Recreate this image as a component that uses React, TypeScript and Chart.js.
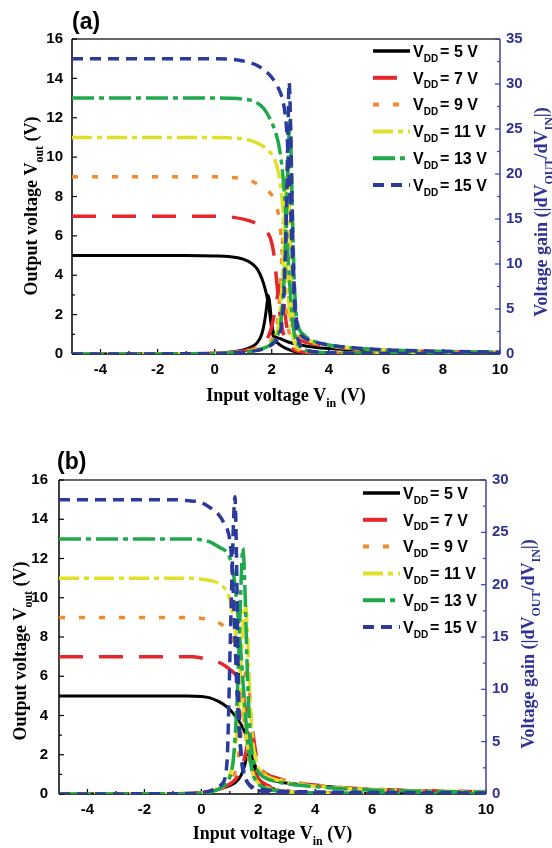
import React, { useEffect, useRef } from 'react';
import { Chart, registerables } from 'chart.js';

Chart.register(...registerables);

type Pt = [number, number];

// ---------- axis ticks ----------
const xTickValues = [-4, -2, 0, 2, 4, 6, 8, 10];
const xMinorValues = [-3, -1, 1, 3, 5, 7, 9];
const voutTickValues = [0, 2, 4, 6, 8, 10, 12, 14, 16];
const voutMinorValues = [1, 3, 5, 7, 9, 11, 13, 15];
const gainTicksA = [0, 5, 10, 15, 20, 25, 30, 35];
const gainMinorA = [2.5, 7.5, 12.5, 17.5, 22.5, 27.5, 32.5];
const gainTicksB = [0, 5, 10, 15, 20, 25, 30];
const gainMinorB = [2.5, 7.5, 12.5, 17.5, 22.5, 27.5];

// ---------- series ----------
const vddValues = ['5', '7', '9', '11', '13', '15'];

// Panel (a) : transfer curves (V_in, V_out)
const vtcA5: Pt[] = [[-5, 5], [-1, 5], [0, 4.98], [0.5, 4.95], [1, 4.82], [1.3, 4.6], [1.5, 4.3], [1.65, 3.85], [1.77, 3.3], [1.85, 2.8], [1.92, 2.2], [1.97, 1.6], [2.02, 1.1], [2.1, 0.75], [2.3, 0.45], [2.6, 0.22], [3, 0.07], [4, 0.03], [10, 0.01]];
const vtcA7: Pt[] = [[-5, 7], [0, 7], [0.5, 6.97], [1, 6.85], [1.35, 6.7], [1.6, 6.5], [1.8, 6.25], [1.95, 5.9], [2.05, 5.3], [2.12, 4.5], [2.18, 3.6], [2.24, 2.7], [2.3, 1.9], [2.38, 1.2], [2.48, 0.7], [2.6, 0.4], [2.8, 0.2], [3.2, 0.08], [4, 0.03], [10, 0.01]];
const vtcA9: Pt[] = [[-5, 9], [0, 9], [0.5, 8.98], [1, 8.9], [1.3, 8.78], [1.6, 8.55], [1.9, 8.25], [2.1, 7.8], [2.22, 7.2], [2.3, 6.4], [2.36, 5.3], [2.42, 4.1], [2.48, 2.9], [2.54, 1.9], [2.61, 1.1], [2.7, 0.6], [2.83, 0.3], [3.1, 0.12], [4, 0.04], [10, 0.01]];
const vtcA11: Pt[] = [[-5, 11], [0, 11], [0.5, 10.98], [1, 10.92], [1.4, 10.78], [1.7, 10.55], [1.9, 10.3], [2.1, 9.9], [2.22, 9.3], [2.32, 8.4], [2.4, 7.2], [2.46, 5.8], [2.52, 4.3], [2.58, 3.0], [2.64, 1.9], [2.71, 1.1], [2.8, 0.55], [2.95, 0.28], [3.3, 0.12], [4, 0.05], [10, 0.01]];
const vtcA13: Pt[] = [[-5, 13], [0, 13], [0.5, 12.99], [1, 12.95], [1.4, 12.82], [1.7, 12.5], [1.9, 12.05], [2.1, 11.4], [2.25, 10.6], [2.36, 9.5], [2.44, 8.2], [2.51, 6.6], [2.57, 5.0], [2.63, 3.6], [2.69, 2.3], [2.76, 1.3], [2.85, 0.7], [2.97, 0.4], [3.3, 0.15], [4, 0.06], [10, 0.01]];
const vtcA15: Pt[] = [[-5, 15], [0, 15], [0.5, 14.98], [1, 14.88], [1.5, 14.65], [1.8, 14.35], [2.0, 14.05], [2.2, 13.6], [2.4, 12.8], [2.5, 11.8], [2.57, 10.3], [2.63, 8.5], [2.68, 6.6], [2.73, 4.7], [2.78, 3.0], [2.84, 1.7], [2.9, 0.9], [3.0, 0.45], [3.2, 0.2], [3.6, 0.1], [4, 0.06], [10, 0.01]];

// Panel (a) : voltage gain (V_in, |dVout/dVin|)
const gainA5: Pt[] = [[-5, 0], [-1, 0.02], [0, 0.08], [0.5, 0.2], [1, 0.45], [1.3, 0.8], [1.5, 1.3], [1.65, 2.2], [1.75, 3.6], [1.82, 5.2], [1.88, 6.5], [1.93, 5.6], [1.98, 4.0], [2.04, 2.6], [2.12, 2.0], [2.3, 1.7], [2.6, 1.3], [3, 1.0], [3.5, 0.75], [4, 0.6], [5, 0.42], [6, 0.32], [7, 0.26], [8, 0.2], [10, 0.15]];
const gainA7: Pt[] = [[-5, 0], [-1, 0.02], [0, 0.07], [0.5, 0.15], [1, 0.35], [1.5, 0.8], [1.8, 1.5], [1.95, 2.5], [2.05, 3.8], [2.15, 5.5], [2.25, 7.2], [2.32, 8.0], [2.38, 7.0], [2.45, 5.0], [2.52, 3.2], [2.6, 2.3], [2.8, 1.8], [3.2, 1.3], [4, 0.85], [5, 0.55], [6, 0.4], [8, 0.25], [10, 0.18]];
const gainA9: Pt[] = [[-5, 0], [-1, 0.02], [0, 0.06], [0.5, 0.15], [1, 0.3], [1.5, 0.6], [1.9, 1.2], [2.1, 2.2], [2.2, 3.5], [2.28, 6.5], [2.35, 10.5], [2.41, 14.5], [2.45, 16], [2.5, 14], [2.55, 10], [2.61, 6], [2.68, 3.5], [2.76, 2.4], [3, 1.8], [3.5, 1.2], [4, 0.9], [5, 0.55], [6, 0.4], [8, 0.25], [10, 0.18]];
const gainA11: Pt[] = [[-5, 0], [-1, 0.02], [0, 0.05], [0.5, 0.12], [1, 0.25], [1.5, 0.5], [1.9, 1.0], [2.1, 1.8], [2.25, 3.5], [2.35, 7], [2.43, 12.5], [2.49, 18], [2.54, 21.5], [2.59, 19], [2.64, 13], [2.69, 8], [2.75, 4.5], [2.83, 3.0], [3, 2.1], [3.5, 1.3], [4, 0.95], [5, 0.6], [6, 0.42], [8, 0.27], [10, 0.2]];
const gainA13: Pt[] = [[-5, 0], [-1, 0.02], [0, 0.05], [0.5, 0.1], [1, 0.22], [1.5, 0.45], [1.9, 0.9], [2.1, 1.6], [2.3, 3.2], [2.4, 6.5], [2.48, 12], [2.55, 19], [2.6, 24], [2.64, 26], [2.68, 22], [2.73, 15], [2.78, 9], [2.84, 5], [2.92, 3.2], [3.1, 2.2], [3.5, 1.4], [4, 1.0], [5, 0.62], [6, 0.45], [8, 0.28], [10, 0.2]];
const gainA15: Pt[] = [[-5, 0], [-1, 0.02], [0, 0.05], [0.5, 0.1], [1, 0.2], [1.5, 0.4], [1.9, 0.8], [2.15, 1.5], [2.3, 2.5], [2.4, 5], [2.47, 10], [2.53, 18], [2.57, 25], [2.61, 30.2], [2.65, 27], [2.7, 19], [2.75, 11], [2.81, 6], [2.88, 3.4], [2.97, 2.4], [3.2, 1.7], [3.7, 1.2], [4, 1.0], [5, 0.65], [6, 0.45], [8, 0.3], [10, 0.2]];

// Panel (b) : transfer curves
const vtcB5: Pt[] = [[-5, 5], [-0.5, 5], [0, 4.97], [0.3, 4.9], [0.6, 4.72], [0.8, 4.55], [1.0, 4.3], [1.15, 4.05], [1.3, 3.77], [1.45, 3.4], [1.6, 2.9], [1.7, 2.4], [1.78, 1.9], [1.86, 1.4], [1.94, 0.97], [2.05, 0.7], [2.2, 0.5], [2.5, 0.28], [3, 0.12], [4, 0.04], [10, 0.01]];
const vtcB7: Pt[] = [[-5, 7], [-0.3, 7], [0, 6.93], [0.4, 6.8], [0.7, 6.65], [1.0, 6.35], [1.25, 6.0], [1.4, 5.5], [1.5, 4.8], [1.58, 3.9], [1.65, 3.0], [1.72, 2.2], [1.8, 1.5], [1.9, 1.0], [2.05, 0.7], [2.3, 0.45], [2.7, 0.25], [3.2, 0.12], [4, 0.05], [10, 0.01]];
const vtcB9: Pt[] = [[-5, 9], [-0.3, 9], [0, 8.95], [0.4, 8.85], [0.7, 8.65], [0.95, 8.3], [1.1, 7.8], [1.22, 7.0], [1.32, 6.0], [1.41, 4.9], [1.5, 3.8], [1.58, 2.8], [1.66, 1.9], [1.75, 1.25], [1.87, 0.8], [2.05, 0.5], [2.4, 0.28], [3, 0.12], [4, 0.05], [10, 0.01]];
const vtcB11: Pt[] = [[-5, 11], [-0.3, 11], [0, 10.95], [0.4, 10.85], [0.7, 10.65], [0.9, 10.3], [1.02, 9.8], [1.12, 9.0], [1.22, 8.0], [1.3, 7.0], [1.38, 5.9], [1.46, 4.7], [1.54, 3.5], [1.62, 2.5], [1.7, 1.7], [1.8, 1.1], [1.95, 0.65], [2.2, 0.38], [2.6, 0.2], [3.2, 0.1], [4, 0.05], [10, 0.01]];
const vtcB13: Pt[] = [[-5, 13], [-0.5, 13], [0, 12.95], [0.3, 12.85], [0.6, 12.6], [0.9, 12.3], [1.05, 11.8], [1.15, 11.0], [1.23, 10.0], [1.3, 8.9], [1.37, 7.6], [1.44, 6.2], [1.51, 4.8], [1.58, 3.5], [1.65, 2.4], [1.73, 1.6], [1.82, 1.0], [1.95, 0.6], [2.2, 0.32], [2.7, 0.15], [4, 0.05], [10, 0.01]];
const vtcB15: Pt[] = [[-5, 15], [-1, 15], [-0.5, 14.95], [0, 14.85], [0.3, 14.6], [0.6, 14.25], [0.8, 13.8], [0.95, 13.3], [1.03, 12.6], [1.08, 11.6], [1.12, 10.3], [1.16, 8.8], [1.2, 7.2], [1.24, 5.6], [1.29, 4.1], [1.35, 2.8], [1.42, 1.8], [1.5, 1.1], [1.6, 0.65], [1.75, 0.35], [2.0, 0.18], [2.5, 0.09], [4, 0.04], [10, 0.01]];

// Panel (b) : voltage gain
const gainB5: Pt[] = [[-5, 0], [-1, 0.02], [0, 0.1], [0.5, 0.35], [0.9, 0.7], [1.2, 1.1], [1.4, 1.8], [1.52, 2.7], [1.62, 4.0], [1.7, 5.2], [1.76, 4.6], [1.84, 3.2], [1.95, 2.3], [2.1, 1.8], [2.4, 1.4], [3, 1.05], [3.5, 0.9], [4.5, 0.7], [5.5, 0.5], [7, 0.35], [8.5, 0.25], [10, 0.2]];
const gainB7: Pt[] = [[-5, 0], [-1, 0.03], [0, 0.12], [0.5, 0.4], [0.9, 0.8], [1.2, 1.4], [1.4, 2.4], [1.55, 3.8], [1.65, 5.2], [1.73, 6.4], [1.8, 6.0], [1.87, 4.7], [1.95, 3.4], [2.05, 2.6], [2.3, 1.9], [2.7, 1.5], [3.2, 1.15], [4, 0.85], [5, 0.6], [6, 0.45], [8, 0.3], [10, 0.22]];
const gainB9: Pt[] = [[-5, 0], [-1, 0.03], [0, 0.12], [0.5, 0.4], [0.9, 0.9], [1.15, 1.8], [1.3, 3.5], [1.4, 6], [1.48, 9], [1.55, 11.5], [1.6, 12.3], [1.66, 11], [1.72, 8.5], [1.8, 5.5], [1.9, 3.6], [2.0, 2.7], [2.3, 1.9], [2.7, 1.5], [3.2, 1.15], [4, 0.85], [5, 0.6], [6, 0.45], [8, 0.3], [10, 0.22]];
const gainB11: Pt[] = [[-5, 0], [-1, 0.03], [0, 0.12], [0.5, 0.4], [0.8, 0.9], [1.0, 1.8], [1.15, 3.5], [1.28, 7], [1.38, 11.5], [1.45, 15.5], [1.5, 17.5], [1.55, 18.2], [1.6, 16.5], [1.66, 12.5], [1.72, 8.5], [1.8, 5.2], [1.9, 3.4], [2.0, 2.5], [2.3, 1.7], [2.7, 1.3], [3.2, 1.0], [4, 0.75], [5, 0.55], [6, 0.42], [8, 0.28], [10, 0.2]];
const gainB13: Pt[] = [[-5, 0], [-1, 0.03], [0, 0.1], [0.5, 0.35], [0.8, 0.8], [1.0, 1.6], [1.12, 3.2], [1.22, 7], [1.3, 12], [1.37, 18], [1.42, 22], [1.46, 23.5], [1.5, 22], [1.55, 18], [1.6, 13], [1.66, 8.5], [1.73, 5.2], [1.82, 3.3], [1.95, 2.3], [2.2, 1.6], [2.6, 1.2], [3.2, 0.9], [4, 0.7], [5, 0.5], [6, 0.38], [8, 0.25], [10, 0.18]];
const gainB15: Pt[] = [[-5, 0], [-1, 0.03], [0, 0.12], [0.4, 0.4], [0.7, 0.9], [0.85, 1.8], [0.92, 4], [0.97, 9], [1.02, 15], [1.08, 21], [1.13, 26], [1.18, 28.4], [1.22, 25], [1.26, 18], [1.3, 11], [1.35, 6], [1.42, 3], [1.5, 1.8], [1.65, 1.0], [1.85, 0.6], [2.2, 0.4], [3, 0.25], [4, 0.2], [6, 0.15], [8, 0.12], [10, 0.1]];

// ---------- styles ----------
const seriesColors = ['#000000', '#e5262b', '#f08a2a', '#e0e028', '#1fa84c', '#2b3b9c'];
const seriesDashes: number[][] = [[], [24, 16], [6, 14], [20, 5, 5, 5], [22, 5, 5, 5], [11, 7]];
const gainBlue = '#2f3194';
const axisBlue = '#4040a0';
const W = 552;
const H = 424;

type PanelCfg = {
  label: string;
  area: { left: number; right: number; top: number; bottom: number };
  gainMax: number;
  gainTicks: number[];
  gainMinor: number[];
  leftPad: number;
  labelPos: [number, number];
  legendX: number;
  legendTextX: number;
  legendY0: number;
  legendDy: number;
  leftTitle: [number, number];
  rightTitle: [number, number];
  xTitleY: number;
  vtc: Pt[][];
  gain: Pt[][];
};

const panelA: PanelCfg = {
  label: '(a)',
  area: { left: 72, right: 500, top: 39, bottom: 354 },
  gainMax: 35,
  gainTicks: gainTicksA,
  gainMinor: gainMinorA,
  leftPad: 9,
  labelPos: [72, 23],
  legendX: 373,
  legendTextX: 413,
  legendY0: 51,
  legendDy: 26.8,
  leftTitle: [31, 206],
  rightTitle: [541, 212],
  xTitleY: 395,
  vtc: [vtcA5, vtcA7, vtcA9, vtcA11, vtcA13, vtcA15],
  gain: [gainA5, gainA7, gainA9, gainA11, gainA13, gainA15],
};

const panelB: PanelCfg = {
  label: '(b)',
  area: { left: 59, right: 486, top: 56, bottom: 370 },
  gainMax: 30,
  gainTicks: gainTicksB,
  gainMinor: gainMinorB,
  leftPad: 11,
  labelPos: [57, 39],
  legendX: 363,
  legendTextX: 403,
  legendY0: 69,
  legendDy: 26.8,
  leftTitle: [20, 227],
  rightTitle: [528, 220],
  xTitleY: 409,
  vtc: [vtcB5, vtcB7, vtcB9, vtcB11, vtcB13, vtcB15],
  gain: [gainB5, gainB7, gainB9, gainB11, gainB13, gainB15],
};

const serif = '"Liberation Serif", "Times New Roman", serif';
const sans = '"Liberation Sans", Arial, sans-serif';

type Part = [string, boolean];

function measureParts(ctx: CanvasRenderingContext2D, parts: Part[], main: string, sub: string) {
  return parts.map(([t, s]) => {
    ctx.font = s ? sub : main;
    return ctx.measureText(t).width;
  });
}

function drawParts(
  ctx: CanvasRenderingContext2D,
  parts: Part[],
  x: number,
  y: number,
  rot: number,
  centered: boolean,
  mainSize: number,
  subSize: number,
  family: string,
  color: string,
  subGap = 0,
) {
  const main = `bold ${mainSize}px ${family}`;
  const sub = `bold ${subSize}px ${family}`;
  ctx.save();
  ctx.translate(x, y);
  ctx.rotate(rot);
  ctx.fillStyle = color;
  ctx.textAlign = 'left';
  ctx.textBaseline = 'alphabetic';
  const widths = measureParts(ctx, parts, main, sub);
  const total = widths.reduce((a, b) => a + b, 0) + subGap;
  let cx = centered ? -total / 2 : 0;
  const base = mainSize * 0.36;
  parts.forEach(([t, s], i) => {
    ctx.font = s ? sub : main;
    ctx.fillText(t, cx, s ? base + mainSize * 0.3 : base);
    cx += widths[i] + (s ? subGap : 0);
  });
  ctx.restore();
}

function makeDecor(cfg: PanelCfg) {
  return {
    id: 'decor',
    beforeDatasetsDraw(chart: any) {
      const ctx: CanvasRenderingContext2D = chart.ctx;
      const { left, right, top, bottom } = chart.chartArea;
      const xs = chart.scales.x;
      const ys = chart.scales.y;
      const y1 = chart.scales.y1;
      ctx.save();
      ctx.lineWidth = 1.5;
      const seg = (a: number, b: number, c: number, d: number) => {
        ctx.beginPath();
        ctx.moveTo(a, b);
        ctx.lineTo(c, d);
        ctx.stroke();
      };
      ctx.strokeStyle = '#333333';
      seg(left, top, right, top);
      ctx.strokeStyle = '#000000';
      seg(left, top, left, bottom);
      seg(left, bottom, right, bottom);
      ctx.lineWidth = 1.2;
      xTickValues.forEach((v) => { const p = xs.getPixelForValue(v); seg(p, bottom, p, bottom - 5); });
      xMinorValues.forEach((v) => { const p = xs.getPixelForValue(v); seg(p, bottom, p, bottom - 3); });
      voutTickValues.forEach((v) => { const p = ys.getPixelForValue(v); seg(left, p, left + 5, p); });
      voutMinorValues.forEach((v) => { const p = ys.getPixelForValue(v); seg(left, p, left + 3, p); });
      ctx.strokeStyle = axisBlue;
      ctx.lineWidth = 1.5;
      seg(right, top, right, bottom);
      ctx.lineWidth = 1.2;
      cfg.gainTicks.forEach((v) => { const p = y1.getPixelForValue(v); seg(right, p, right - 5, p); });
      cfg.gainMinor.forEach((v) => { const p = y1.getPixelForValue(v); seg(right, p, right - 3, p); });
      ctx.restore();
    },
    afterDraw(chart: any) {
      const ctx: CanvasRenderingContext2D = chart.ctx;
      const { left, right } = chart.chartArea;
      // panel label
      ctx.save();
      ctx.font = `bold 23px ${sans}`;
      ctx.fillStyle = '#000';
      ctx.textBaseline = 'middle';
      ctx.textAlign = 'left';
      ctx.fillText(cfg.label, cfg.labelPos[0], cfg.labelPos[1]);
      ctx.restore();
      // axis titles
      drawParts(ctx, [['Input voltage V', false], ['in', true], [' (V)', false]], (left + right) / 2, cfg.xTitleY, 0, true, 18, 12, serif, '#000');
      drawParts(ctx, [['Output voltage V', false], ['out', true], [' (V)', false]], cfg.leftTitle[0], cfg.leftTitle[1], -Math.PI / 2, true, 18, 12, serif, '#000');
      drawParts(ctx, [['Voltage gain (|dV', false], ['OUT', true], ['/dV', false], ['IN', true], ['|)', false]], cfg.rightTitle[0], cfg.rightTitle[1], -Math.PI / 2, true, 18, 12, serif, gainBlue);
      // legend
      vddValues.forEach((v, i) => {
        const y = cfg.legendY0 + i * cfg.legendDy;
        ctx.save();
        ctx.strokeStyle = seriesColors[i];
        ctx.lineWidth = i === 0 ? 3.5 : 4;
        ctx.setLineDash(seriesDashes[i]);
        ctx.beginPath();
        ctx.moveTo(cfg.legendX, y);
        ctx.lineTo(cfg.legendX + 37, y);
        ctx.stroke();
        ctx.restore();
        drawParts(ctx, [['V', false], ['DD', true], [`= ${v} V`, false]], cfg.legendTextX, y, 0, false, 16, 10, sans, '#000', 2);
      });
    },
  };
}

function buildDatasets(cfg: PanelCfg) {
  const ds: any[] = [];
  for (let i = vddValues.length - 1; i >= 0; i--) {
    const style = {
      borderColor: seriesColors[i],
      backgroundColor: seriesColors[i],
      borderWidth: i === 0 ? 3 : 3.5,
      borderDash: seriesDashes[i],
      borderCapStyle: 'butt',
      borderJoinStyle: 'round',
      pointRadius: 0,
      fill: false,
      cubicInterpolationMode: 'monotone',
    };
    ds.push({ label: `VDD = ${vddValues[i]} V`, data: cfg.vtc[i].map(([x, y]) => ({ x, y })), yAxisID: 'y', ...style });
    ds.push({ label: `Gain VDD = ${vddValues[i]} V`, data: cfg.gain[i].map(([x, y]) => ({ x, y })), yAxisID: 'y1', ...style });
  }
  return ds;
}

function Panel({ cfg, top }: { cfg: PanelCfg; top: number }) {
  const ref = useRef<HTMLCanvasElement | null>(null);
  useEffect(() => {
    if (!ref.current) return;
    const tickFont = { family: sans, size: 15, weight: 'bold' as const };
    const noGrid = { display: false, drawTicks: false, tickLength: 0 };
    const chart = new Chart(ref.current, {
      type: 'line',
      data: { datasets: buildDatasets(cfg) },
      options: {
        animation: false,
        responsive: false,
        events: [],
        layout: { padding: { left: 0, right: 0, top: cfg.area.top, bottom: 0 } },
        plugins: { legend: { display: false }, tooltip: { enabled: false }, title: { display: false } },
        scales: {
          x: {
            type: 'linear',
            min: -5,
            max: 10,
            afterBuildTicks: (s: any) => { s.ticks = xTickValues.map((v) => ({ value: v })); },
            afterFit: (s: any) => { s.height = H - cfg.area.bottom; },
            grid: noGrid,
            border: { display: false },
            ticks: { font: tickFont, color: '#000', padding: 7, maxRotation: 0, autoSkip: false },
          },
          y: {
            type: 'linear',
            position: 'left',
            min: 0,
            max: 16,
            afterBuildTicks: (s: any) => { s.ticks = voutTickValues.map((v) => ({ value: v })); },
            afterFit: (s: any) => { s.width = cfg.area.left; },
            grid: noGrid,
            border: { display: false },
            ticks: { font: tickFont, color: '#000', padding: cfg.leftPad, autoSkip: false },
          },
          y1: {
            type: 'linear',
            position: 'right',
            min: 0,
            max: cfg.gainMax,
            afterBuildTicks: (s: any) => { s.ticks = cfg.gainTicks.map((v) => ({ value: v })); },
            afterFit: (s: any) => { s.width = W - cfg.area.right; },
            grid: noGrid,
            border: { display: false },
            ticks: { font: tickFont, color: gainBlue, padding: 6, autoSkip: false },
          },
        },
      } as any,
      plugins: [makeDecor(cfg)],
    });
    return () => chart.destroy();
  }, [cfg]);
  return (
    <canvas
      ref={ref}
      width={W}
      height={H}
      style={{ position: 'absolute', left: 0, top, width: W, height: H, display: 'block' }}
    />
  );
}

export default function App() {
  return (
    <div style={{ position: 'absolute', left: 0, top: 0, width: W, height: 848, background: '#fff' }}>
      <Panel cfg={panelA} top={0} />
      <Panel cfg={panelB} top={424} />
    </div>
  );
}
